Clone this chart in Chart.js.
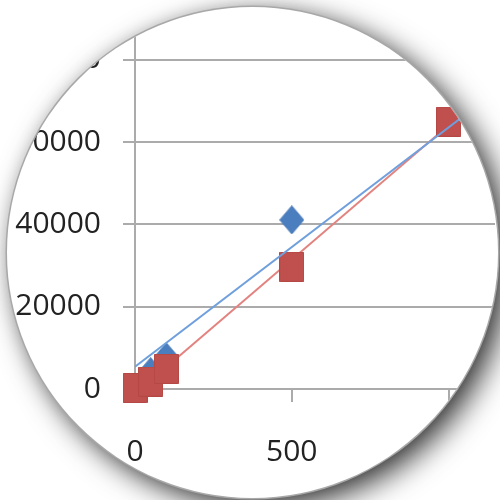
<!DOCTYPE html>
<html>
<head>
<meta charset="utf-8">
<script src="https://cdn.jsdelivr.net/npm/chart.js@4/dist/chart.umd.min.js"></script>
<style>
  html, body { margin: 0; padding: 0; width: 500px; height: 500px; background: #fff; overflow: hidden; }
  /* round lens that frames the plot */
  #disk {
    position: absolute; left: 7px; top: 7px; width: 491px; height: 491px;
    border-radius: 50%; overflow: hidden; background: #fff;
    box-shadow: 0 0 0 1.5px #a8a8a8, 10px 9px 30px rgba(0,0,0,0.8), 0 0 16px rgba(0,0,0,0.10);
  }
  #chart { position: absolute; left: -7px; top: -7px; }
</style>
</head>
<body>
<div id="disk"><canvas id="chart" width="500" height="500"></canvas></div>
<script>
// measured series
const concentrations = [0, 50, 100, 500, 1000];
const seriesBlue = [300, 4200, 7800, 41100, 64800];
const seriesRed = [250, 1800, 4900, 29700, 65000];

// linear trend lines (end points)
const trendX = [0, 1150];
const trendBlue = [5400, 72300];
const trendRed = [-1200, 73900];

// axis ticks
const xTicks = [0, 500, 1000];
const yTicks = [0, 20000, 40000, 60000, 80000];

const BLUE = '#4a7ebf';
const RED = '#c0504d';

function markerCanvas(kind, w, h, fill, stroke) {
  const c = document.createElement('canvas');
  c.width = w; c.height = h;
  const g = c.getContext('2d');
  g.fillStyle = fill;
  g.strokeStyle = stroke;
  g.lineWidth = 1;
  g.beginPath();
  if (kind === 'square') {
    g.rect(0.5, 0.5, w - 1, h - 1);
  } else {
    g.moveTo(w / 2, 0.5);
    g.lineTo(w - 0.5, h / 2);
    g.lineTo(w / 2, h - 0.5);
    g.lineTo(0.5, h / 2);
    g.closePath();
  }
  g.fill();
  g.stroke();
  return c;
}

const squareMark = markerCanvas('square', 25, 30, RED, '#b54845');
const diamondMark = markerCanvas('diamond', 25, 29, BLUE, '#4275b5');

const pairs = (xs, ys) => xs.map((x, i) => ({ x: x, y: ys[i] }));

const font = { family: '"Open Sans", Lato, sans-serif', size: 30 };
const GRID = '#ababab';
const plain = v => String(v);
const noPad = s => { s.paddingLeft = 0; s.paddingRight = 0; s.paddingTop = 0; s.paddingBottom = 0; };

// lower order is painted last (on top)
new Chart(document.getElementById('chart'), {
  type: 'scatter',
  data: {
    datasets: [
      {
        label: 'trend blue',
        data: pairs(trendX, trendBlue),
        showLine: true, borderColor: '#6f9fdc', borderWidth: 2,
        pointRadius: 0, order: 0
      },
      {
        label: 'red',
        data: pairs(concentrations, seriesRed),
        pointStyle: squareMark, order: 1, clip: false
      },
      {
        label: 'trend red',
        data: pairs(trendX, trendRed),
        showLine: true, borderColor: '#e2837f', borderWidth: 2,
        pointRadius: 0, order: 2
      },
      {
        label: 'blue',
        data: pairs(concentrations, seriesBlue),
        pointStyle: diamondMark, order: 3, clip: false
      }
    ]
  },
  options: {
    responsive: false,
    animation: false,
    devicePixelRatio: 1,
    layout: { padding: { top: 29, left: 0, right: 0, bottom: 0 } },
    plugins: { legend: { display: false }, tooltip: { enabled: false } },
    scales: {
      x: {
        type: 'linear', min: 0, max: 1148,
        afterFit: s => { s.height = 111; noPad(s); },
        afterBuildTicks: s => { s.ticks = xTicks.map(v => ({ value: v })); },
        ticks: { font: font, color: '#222', padding: 32, includeBounds: false, maxRotation: 0, callback: plain },
        grid: { drawOnChartArea: false, drawTicks: true, tickLength: 13, color: GRID, lineWidth: 2 },
        border: { display: true, color: GRID, width: 2 }
      },
      y: {
        type: 'linear', min: 0, max: 87500,
        afterFit: s => { s.width = 135; noPad(s); },
        afterBuildTicks: s => { s.ticks = yTicks.map(v => ({ value: v })); },
        ticks: { font: font, color: '#222', padding: 22, includeBounds: false, callback: plain },
        grid: { drawOnChartArea: true, drawTicks: true, tickLength: 12, color: GRID, lineWidth: 2 },
        border: { display: true, color: GRID, width: 2 }
      }
    }
  }
});
</script>
</body>
</html>
